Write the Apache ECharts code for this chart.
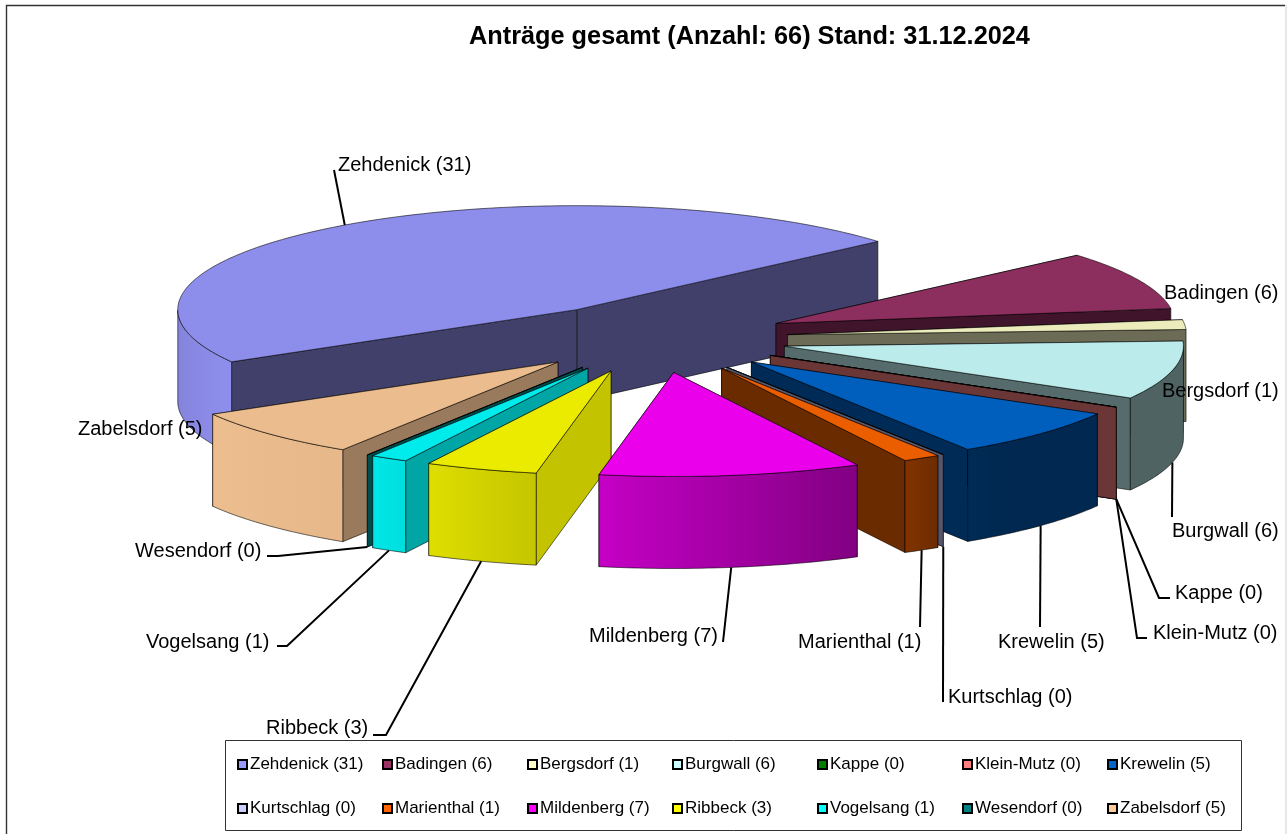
<!DOCTYPE html>
<html>
<head>
<meta charset="utf-8">
<style>html,body{margin:0;padding:0;background:#fff}#c{width:1287px;height:834px}</style>
<script src="https://cdn.jsdelivr.net/npm/echarts@6/dist/echarts.min.js"></script>
</head>
<body>
<div id="c"></div>
<script>
// ---- data ----
const categories = ['Zehdenick','Badingen','Bergsdorf','Burgwall','Kappe','Klein-Mutz','Krewelin','Kurtschlag','Marienthal','Mildenberg','Ribbeck','Vogelsang','Wesendorf','Zabelsdorf'];
const values = [31,6,1,6,0,0,5,0,1,7,3,1,0,5];
const colors = ['#9999FF','#993366','#FFFFCC','#CCFFFF','#008000','#FF8080','#0066CC','#CCCCFF','#FF6600','#FF00FF','#FFFF00','#00FFFF','#008080','#FFCC99'];
const titleText = 'Anträge gesamt (Anzahl: 66) Stand: 31.12.2024';

// ---- layout of the 3D view ----
const view = {cx:654.5, cy:338, a:399, b:104, explode:0.335, depth:92, firstAngle:210.1};
// label anchor [left, centre y]; leader tail after the computed slice anchor
const labelAnchors = [[338,165],[1164,293],[1162,391],[1172,531],[1175,593],[1153,633],[998,642],[948,697],[798,642],[589,636],[266,728],[146,642],[135,551],[78,429]];
const leaderTails = [[[334,170]],[],[],[[1172,517]],[[1159,598],[1170,598]],[[1137,638],[1147,638]],[[1040,627]],[[943,702]],[[920,627]],[[723,642]],[[386,735],[373,735]],[[287,646],[277,646]],[[278,556],[267,556]],[]];
const wallStops = [[-180,.85],[-160,.9],[-149,.93],[-122,.9],[-117,.87],[-100,.77],[-62,.5],[-57,.42],[-50,.39],[0,.39]];
const faceStops = [[-130,.6],[-122,.6],[-117,.65],[-100,.77]];

const rad = d => d*Math.PI/180;
const total = values.reduce((s,v)=>s+v,0);
const slices = [];
let cursor = view.firstAngle;
values.forEach(v => {
  const sweep = v/total*360;
  const mid = cursor - sweep/2;
  slices.push({start:cursor, end:cursor-sweep, mid,
    ox:view.cx + view.explode*view.a*Math.cos(rad(mid)),
    oy:view.cy - view.explode*view.b*Math.sin(rad(mid))});
  cursor -= sweep;
});
function rimPoint(s, ang, drop){
  return [s.ox + view.a*Math.cos(rad(ang)), s.oy - view.b*Math.sin(rad(ang)) + (drop||0)];
}
function lookup(stops, t, dflt){
  if (t < stops[0][0] || t > stops[stops.length-1][0]) return dflt;
  for (let i=1;i<stops.length;i++){
    if (t <= stops[i][0]){
      const [x0,y0]=stops[i-1],[x1,y1]=stops[i];
      return y0+(y1-y0)*(t-x0)/(x1-x0);
    }
  }
  return dflt;
}
const norm = a => { let n=a; while(n>180)n-=360; while(n<=-180)n+=360; return n; };
function tint(hex,k){
  const n=parseInt(hex.slice(1),16);
  const c=[n>>16&255,n>>8&255,n&255].map(x=>Math.round(x*k));
  return 'rgb('+c.join(',')+')';
}
const EDGE = 'rgba(0,0,0,0.72)';
function poly(points, fill){
  return {type:'polygon', shape:{points}, style:{fill, stroke:EDGE, lineWidth:0.8}};
}
function renderSlice(i){
  const s = slices[i], col = colors[i], kids=[];
  // radial cut faces, far one first
  const faces = [s.start,s.end].map(a=>({a,y:rimPoint(s,a)[1]})).sort((p,q)=>p.y-q.y);
  faces.forEach(f=>{
    const p=rimPoint(s,f.a), q=rimPoint(s,f.a,view.depth);
    const k=lookup(faceStops,norm(f.a),.42);
    kids.push(poly([[s.ox,s.oy],p,q,[s.ox,s.oy+view.depth]], tint(col,k)));
  });
  // outer wall: only the part of the rim that faces the viewer
  const vis=[];
  const n=Math.max(1,Math.ceil(s.start-s.end));
  for(let j=0;j<=n;j++){
    const a=s.start+(s.end-s.start)*j/n;
    if(Math.sin(rad(a))<=0) vis.push(a);
  }
  if(s.start>s.end && vis.length>1){
    const top=vis.map(a=>rimPoint(s,a)), bot=vis.map(a=>rimPoint(s,a,view.depth)).reverse();
    const xs=top.map(p=>p[0]), x0=Math.min(...xs), x1=Math.max(...xs);
    const stops=vis.filter((a,j)=>j%4===0||j===vis.length-1).map(a=>({
      offset:(rimPoint(s,a)[0]-x0)/(x1-x0||1),
      color:tint(col,lookup(wallStops,norm(a),.39))
    })).sort((p,q)=>p.offset-q.offset);
    kids.push(poly(top.concat(bot),{type:'linear',x:0,y:0,x2:1,y2:0,colorStops:stops}));
  }
  // top face
  const pts=[[s.ox,s.oy]];
  for(let j=0;j<=n;j++) pts.push(rimPoint(s,s.start+(s.end-s.start)*j/n));
  kids.push(poly(pts,tint(col,.92)));
  return {type:'group',children:kids};
}
function labelText(i){ return categories[i]+' ('+values[i]+')'; }
function renderLabel(params){
  const i=params.dataIndex, s=slices[i], kids=[];
  const tail=leaderTails[i];
  if(tail.length){
    const front=Math.sin(rad(s.mid))<0;
    const pts=[rimPoint(s,s.mid,front?view.depth:0)].concat(tail);
    kids.push({type:'polyline',shape:{points:pts},style:{fill:'none',stroke:'#000',lineWidth:2}});
  }
  kids.push({type:'text',x:labelAnchors[i][0],y:labelAnchors[i][1],
    style:{text:labelText(i),fill:'#000',fontFamily:'Liberation Sans',fontSize:20,textAlign:'left',textVerticalAlign:'middle'}});
  return {type:'group',children:kids};
}
const rankOrder = slices.map((s,i)=>i).sort((p,q)=>Math.sin(rad(slices[q].mid))-Math.sin(rad(slices[p].mid)));
const series = categories.map((c,i)=>({
  type:'custom', name:labelText(i), coordinateSystem:'none',
  z:10+rankOrder.indexOf(i), silent:true,
  itemStyle:{color:colors[i]},
  data:[{name:c,value:values[i]}],
  renderItem:()=>renderSlice(i)
}));
series.push({type:'custom',name:'labels',coordinateSystem:'none',z:50,silent:true,
  data:categories.map((c,i)=>({name:c,value:values[i]})),renderItem:renderLabel});

const legendCols=7;
const legends=[];
for(let c=0;c<legendCols;c++){
  legends.push({orient:'vertical',left:237+c*145,top:756,padding:0,itemGap:27,itemWidth:9,itemHeight:9,
    selectedMode:false,icon:'rect',z:60,
    itemStyle:{borderColor:'#000',borderWidth:2},
    textStyle:{color:'#000',fontFamily:'Liberation Sans',fontSize:17,padding:[0,0,0,-2]},
    data:[c,c+legendCols].map(labelText)});
}
const chart=echarts.init(document.getElementById('c'),null,{renderer:'canvas'});
chart.setOption({
  animation:false,
  backgroundColor:'#fff',
  title:{text:titleText,left:469,top:25,padding:0,textStyle:{fontFamily:'Liberation Sans',fontWeight:'bold',fontSize:25.3,color:'#000'}},
  legend:legends,
  graphic:[
    {type:'polyline',z:1,silent:true,shape:{points:[[6.5,840],[6.5,5.5],[1285,5.5]]},style:{fill:'none',stroke:'#333',lineWidth:1.4}},
    {type:'polyline',z:1,silent:true,shape:{points:[[1286,5],[1286,840]]},style:{fill:'none',stroke:'#ddd',lineWidth:1.4}},
    {type:'rect',z:55,silent:true,shape:{x:225.5,y:740.5,width:1016,height:90},style:{fill:'#fff',stroke:'#333',lineWidth:1}}
  ],
  series
});
</script>
</body>
</html>
